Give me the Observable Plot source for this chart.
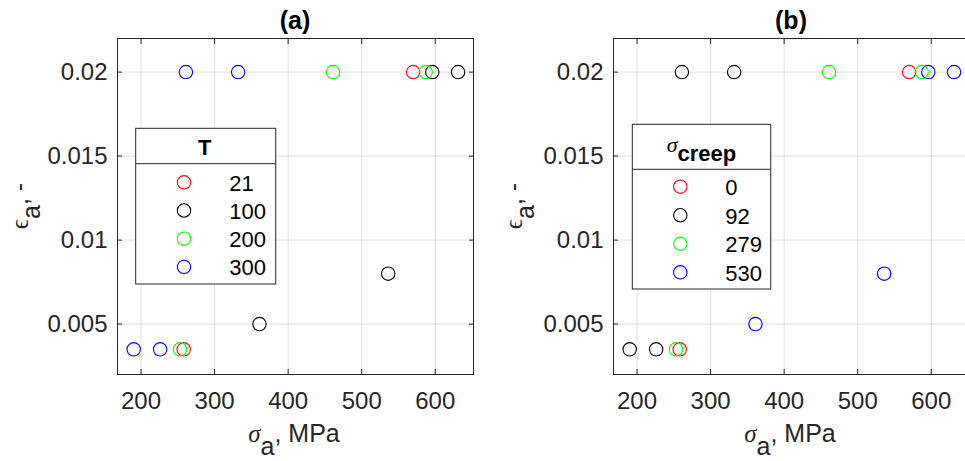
<!DOCTYPE html>
<html>
<head>
<meta charset="utf-8">
<script src="https://cdn.jsdelivr.net/npm/d3@7"></script>
<script src="https://cdn.jsdelivr.net/npm/@observablehq/plot@0.6"></script>
<style>
  html, body { margin: 0; padding: 0; background: #fff; }
  #chart { position: relative; width: 965px; height: 461px; overflow: hidden; }
  #chart svg { position: absolute; top: 0; overflow: visible; }
</style>
</head>
<body>
<div id="chart"></div>
<script>
// Test points: stress amplitude (MPa) against strain amplitude
const stressAmp   = [570, 258, 596, 631, 361, 536, 461, 587, 253, 261, 332, 190, 226];
const strainAmp   = [0.02, 0.0035, 0.02, 0.02, 0.005, 0.008, 0.02, 0.02, 0.0035, 0.02, 0.02, 0.0035, 0.0035];
// Test temperature of each point, and the prior creep stress of each point
const temperature = [21, 21, 100, 100, 100, 100, 200, 200, 200, 300, 300, 300, 300];
const creepStress = [0, 0, 530, 530, 530, 530, 279, 279, 279, 92, 92, 92, 92];

const temperatureLevels = [21, 100, 200, 300];
const creepLevels = [0, 92, 279, 530];
const levelColors = ["#ff0000", "#000000", "#00ff00", "#0000ff"];

const xTicks = [200, 300, 400, 500, 600];
const yTicks = [0.005, 0.01, 0.015, 0.02];
const xDomain = [168, 652];
const yDomain = [0.002, 0.022];

const ink = "#262626";
const sans = "'Liberation Sans', Arial, Helvetica, sans-serif";
const serif = "'Liberation Serif', 'Times New Roman', serif";

function panel({group, levels, left, width, marginLeft, marginRight, title, yLabelX, legend}) {
  const rows = stressAmp.map((s, i) => ({stress: s, strain: strainAmp[i], group: group[i]}));
  const svg = Plot.plot({
    width, height: 461,
    marginLeft, marginRight, marginTop: 38, marginBottom: 87,
    style: {fontFamily: sans, color: ink, background: "transparent", overflow: "visible"},
    x: {domain: xDomain},
    y: {domain: yDomain},
    color: {type: "ordinal", domain: levels, range: levelColors},
    marks: [
      Plot.gridX({ticks: xTicks, stroke: ink, strokeOpacity: 0.15}),
      Plot.gridY({ticks: yTicks, stroke: ink, strokeOpacity: 0.15}),
      // tick labels
      Plot.axisX({ticks: xTicks, anchor: "bottom", tickSize: 0, tickPadding: 17, fontSize: 24, label: null}),
      Plot.axisY({ticks: yTicks, anchor: "left", tickSize: 0, tickPadding: 10, fontSize: 24, label: null, tickFormat: d => String(d)}),
      // inward tick marks on all four sides of the box
      Plot.axisX({ticks: xTicks, anchor: "bottom", tickSize: -5, fill: "none", label: null}),
      Plot.axisX({ticks: xTicks, anchor: "top", tickSize: -5, fill: "none", label: null}),
      Plot.axisY({ticks: yTicks, anchor: "left", tickSize: -5, fill: "none", label: null}),
      Plot.axisY({ticks: yTicks, anchor: "right", tickSize: -5, fill: "none", label: null}),
      Plot.frame({stroke: ink}),
      Plot.dot(rows, {x: "stress", y: "strain", stroke: "group", r: 6.7, strokeWidth: 1.1})
    ]
  });
  svg.style.left = left + "px";
  const s = d3.select(svg);
  const cx = marginLeft + (width - marginLeft - marginRight) / 2;

  // panel title
  s.append("text").attr("x", cx).attr("y", 29).attr("text-anchor", "middle")
    .attr("font-family", sans).attr("font-size", 25).attr("font-weight", "bold").attr("fill", "#000")
    .text(title);

  // x-axis label: σ_a, MPa
  const xl = s.append("text").attr("x", cx - 1).attr("y", 441.7).attr("text-anchor", "middle")
    .attr("font-family", sans).attr("font-size", 25).attr("fill", ink);
  xl.append("tspan").attr("font-family", serif).attr("font-style", "italic").text("σ");
  xl.append("tspan").attr("dy", 13).text("a");
  xl.append("tspan").attr("dy", -13).text(", MPa");

  // y-axis label: ϵ_a, -
  const yl = s.append("text").attr("transform", `translate(${yLabelX},206) rotate(-90)`)
    .attr("text-anchor", "middle").attr("font-family", sans).attr("font-size", 25).attr("fill", ink);
  yl.append("tspan").attr("font-family", serif).text("ϵ");
  yl.append("tspan").attr("dy", 12).text("a");
  yl.append("tspan").attr("dy", -12).text(", -");

  // legend box
  const L = legend;
  const g = s.append("g");
  g.append("rect").attr("x", L.x).attr("y", L.y).attr("width", L.w).attr("height", L.h)
    .attr("fill", "#fff").attr("stroke", ink).attr("stroke-width", 1);
  g.append("line").attr("x1", L.x).attr("x2", L.x + L.w).attr("y1", L.divider).attr("y2", L.divider)
    .attr("stroke", ink).attr("stroke-width", 1);
  L.drawTitle(g, L.x + L.w / 2);
  levels.forEach((lv, i) => {
    const ry = L.row0 + i * L.rowStep;
    g.append("circle").attr("cx", L.x + L.markerDx).attr("cy", ry).attr("r", 6.7)
      .attr("fill", "none").attr("stroke", levelColors[i]).attr("stroke-width", 1.1);
    g.append("text").attr("x", L.x + L.textDx).attr("y", ry + 8.4).attr("text-anchor", "start")
      .attr("font-family", sans).attr("font-size", 22).attr("fill", "#000").text(String(lv));
  });

  document.getElementById("chart").appendChild(svg);
}

panel({
  group: temperature, levels: temperatureLevels,
  left: 0, width: 490, marginLeft: 117, marginRight: 17,
  title: "(a)", yLabelX: 28,
  legend: {
    x: 135.7, y: 128.3, w: 140, h: 155.7, divider: 163.7,
    row0: 182.3, rowStep: 28.2, markerDx: 48.3, textDx: 93.5,
    drawTitle: (g, x) => g.append("text").attr("x", x - 1).attr("y", 155).attr("text-anchor", "middle")
      .attr("font-family", sans).attr("font-size", 22).attr("font-weight", "bold").attr("fill", "#000").text("T")
  }
});

panel({
  group: creepStress, levels: creepLevels,
  left: 490, width: 500, marginLeft: 123, marginRight: 21,
  title: "(b)", yLabelX: 32,
  legend: {
    x: 142.3, y: 124.3, w: 138.4, h: 164.7, divider: 169.3,
    row0: 186.7, rowStep: 28.55, markerDx: 48, textDx: 93,
    drawTitle: (g, x) => {
      const t = g.append("text").attr("x", x).attr("y", 151.7).attr("text-anchor", "middle")
        .attr("font-family", sans).attr("font-size", 22).attr("fill", "#000");
      t.append("tspan").attr("font-family", serif).attr("font-style", "italic").text("σ");
      t.append("tspan").attr("dy", 9).attr("font-weight", "bold").text("creep");
    }
  }
});
</script>
</body>
</html>
